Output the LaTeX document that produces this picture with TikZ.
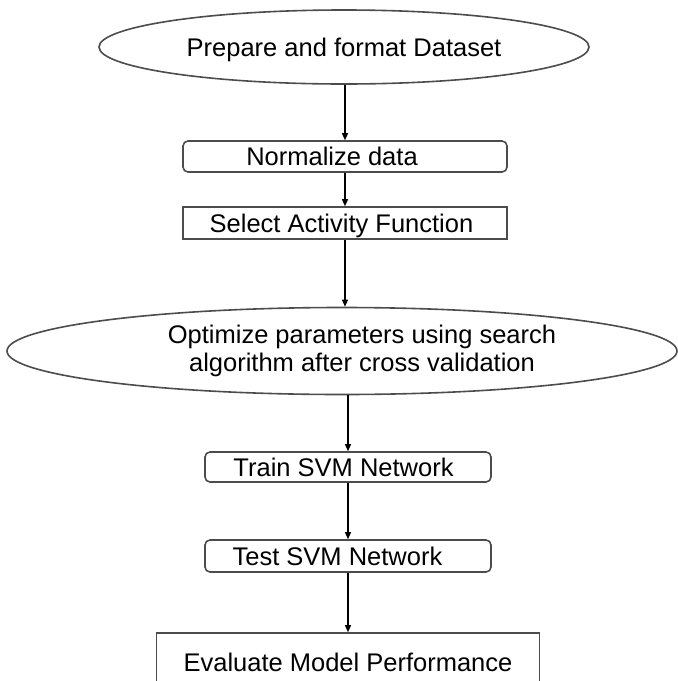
\documentclass[tikz,border=0pt]{standalone}
\usepackage{fontspec}
\setmainfont{Liberation Sans}
\usetikzlibrary{shapes.geometric,arrows.meta}
\begin{document}
\begin{tikzpicture}[x=1pt,y=-1pt,
  every node/.style={inner sep=0pt,font=\fontsize{25.5}{28}\selectfont},
  oval/.style={draw=black!70,line width=1.6pt,ellipse},
  stepbox/.style={draw=black!70,line width=1.6pt,text height=18.3pt,text depth=0pt},
  roundbox/.style={stepbox,rounded corners=5pt},
  flow/.style={line width=1.2pt,-{Triangle[length=7pt,width=6pt]}}]
\useasboundingbox (0,0) rectangle (678,681);
\node[oval,text height=18.3pt,text depth=0pt,minimum width=490,minimum height=74] (prep) at (344,47) {Prepare and format Dataset};
\node[roundbox,minimum width=324,minimum height=31] (norm) at (345,156.5) {Normalize data\hspace*{26pt}};
\node[stepbox,minimum width=324,minimum height=32] (sel) at (345,223) {Select Activity Function\hspace*{7pt}};
\node[oval,align=center,minimum width=670,minimum height=87] (opt) at (342,351) {\hspace*{40pt}Optimize parameters using search\\\hspace*{40pt}algorithm after cross validation};
\node[roundbox,minimum width=286,minimum height=30] (train) at (348,467) {Train SVM Network\hspace*{9pt}};
\node[roundbox,minimum width=286,minimum height=32] (test) at (348,556) {Test SVM Network\hspace*{21pt}};
\node[stepbox,minimum width=383,minimum height=58] (eval) at (348,662) {Evaluate Model Performance};
% connectors
\draw[flow] (norm.north |- prep.south) -- (norm.north);
\draw[flow] (norm) -- (sel);
\draw[flow] (sel.south) -- (sel.south |- opt.north);
\draw[flow] (train.north |- opt.south) -- (train.north);
\draw[flow] (train) -- (test);
\draw[flow] (test) -- (eval);
\end{tikzpicture}
\end{document}
